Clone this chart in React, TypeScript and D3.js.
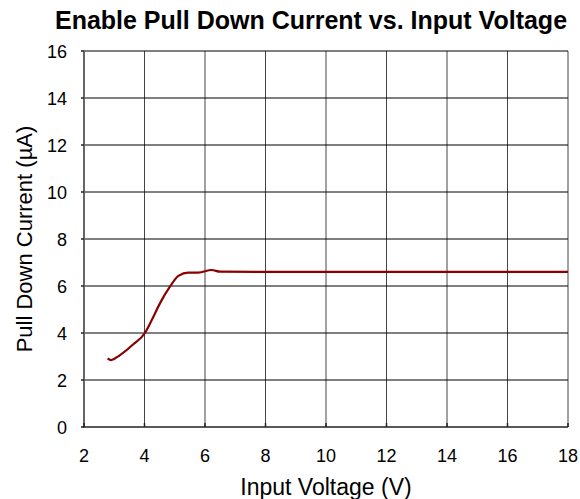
import React, { useEffect, useRef } from "react";
import * as d3 from "d3";

// input voltage (V) vs pull down current (uA)
const voltage = [2.78, 2.89, 3.19, 3.63, 4.02, 4.24, 4.51, 4.84, 5.12, 5.45, 5.78, 6.22, 6.5, 8, 10, 12, 14, 16, 18];
const current = [2.92, 2.85, 3.06, 3.52, 4.01, 4.55, 5.26, 5.97, 6.43, 6.57, 6.57, 6.68, 6.61, 6.6, 6.6, 6.6, 6.6, 6.6, 6.6];
const xTicks = [2, 4, 6, 8, 10, 12, 14, 16, 18];
const yTicks = [0, 2, 4, 6, 8, 10, 12, 14, 16];

function drawChart(node: SVGSVGElement) {
  const width = 580, height = 499;
  const margin = { top: 51, right: 12, bottom: 72, left: 84 };
  const font = "Liberation Sans, Arial, sans-serif";

  const svg = d3.select(node);
  svg.selectAll("*").remove();

  const x = d3.scaleLinear().domain([2, 18]).range([margin.left, width - margin.right]);
  const y = d3.scaleLinear().domain([0, 16]).range([height - margin.bottom, margin.top]);

  // grid
  svg.append("g").selectAll("line")
    .data(xTicks.slice(1))
    .enter().append("line")
    .attr("x1", d => x(d)).attr("x2", d => x(d))
    .attr("y1", y(16)).attr("y2", y(0))
    .attr("stroke", "#444").attr("stroke-width", 1);

  svg.append("g").selectAll("line")
    .data(yTicks.slice(1))
    .enter().append("line")
    .attr("x1", x(2)).attr("x2", x(18))
    .attr("y1", d => y(d)).attr("y2", d => y(d))
    .attr("stroke", "#000").attr("stroke-width", 1);

  // axes lines
  svg.append("line")
    .attr("x1", x(2)).attr("x2", x(2)).attr("y1", y(16)).attr("y2", y(0))
    .attr("stroke", "#666").attr("stroke-width", 2);
  svg.append("line")
    .attr("x1", x(2) - 1).attr("x2", x(18)).attr("y1", y(0)).attr("y2", y(0))
    .attr("stroke", "#222").attr("stroke-width", 1.5);

  // tick marks
  svg.append("g").selectAll("line")
    .data(yTicks)
    .enter().append("line")
    .attr("x1", x(2) - 3).attr("x2", x(2))
    .attr("y1", d => y(d)).attr("y2", d => y(d))
    .attr("stroke", "#222").attr("stroke-width", 1.5);
  svg.append("g").selectAll("line")
    .data(xTicks)
    .enter().append("line")
    .attr("x1", d => x(d)).attr("x2", d => x(d))
    .attr("y1", y(0)).attr("y2", y(0) - 4)
    .attr("stroke", "#222").attr("stroke-width", 1.5);

  // tick labels
  svg.append("g").selectAll("text")
    .data(yTicks)
    .enter().append("text")
    .attr("x", x(2) - 17).attr("y", d => y(d) + 6.5)
    .attr("text-anchor", "end")
    .style("font-family", font).style("font-size", "18px")
    .text(d => d);
  svg.append("g").selectAll("text")
    .data(xTicks)
    .enter().append("text")
    .attr("x", d => x(d)).attr("y", y(0) + 35)
    .attr("text-anchor", "middle")
    .style("font-family", font).style("font-size", "18px")
    .text(d => d);

  // curve
  const line = d3.line<number>()
    .x((d, i) => x(voltage[i]))
    .y(d => y(d))
    .curve(d3.curveMonotoneX);
  svg.append("path")
    .datum(current)
    .attr("d", line)
    .attr("fill", "none")
    .attr("stroke", "#8b0000")
    .attr("stroke-width", 2.2);

  // title & labels
  svg.append("text")
    .attr("x", 311).attr("y", 29)
    .attr("text-anchor", "middle")
    .style("font-family", font).style("font-size", "25px").style("font-weight", "bold")
    .text("Enable Pull Down Current vs. Input Voltage");
  svg.append("text")
    .attr("x", (x(2) + x(18)) / 2).attr("y", 495)
    .attr("text-anchor", "middle")
    .style("font-family", font).style("font-size", "23px")
    .text("Input Voltage (V)");
  svg.append("text")
    .attr("transform", `translate(32,${(y(0) + y(16)) / 2}) rotate(-90)`)
    .attr("text-anchor", "middle")
    .style("font-family", font).style("font-size", "22px")
    .text("Pull Down Current (µA)");
}

const App = () => {
  const ref = useRef<SVGSVGElement>(null);
  useEffect(() => {
    if (ref.current) drawChart(ref.current);
  });
  return (
    <svg ref={ref} width={580} height={499}
      style={{ position: "absolute", left: 0, top: 0, background: "#fff" }} />
  );
};

export default App;
